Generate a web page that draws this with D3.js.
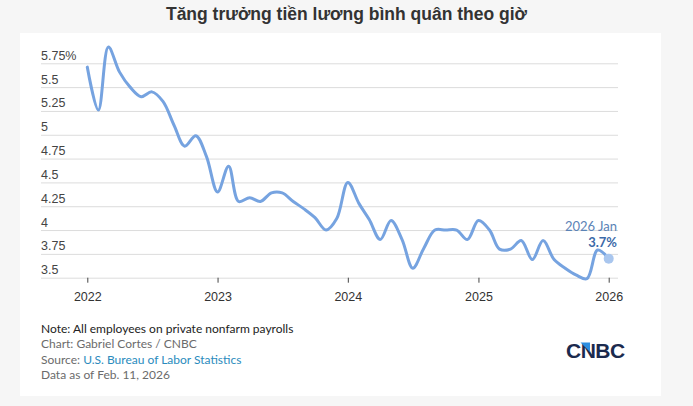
<!DOCTYPE html>
<html>
<head>
<meta charset="utf-8">
<script src="https://cdn.jsdelivr.net/npm/d3@7"></script>
<style>
  body { margin: 0; background: #f6f6f6; }
  svg { display: block; font-family: Lato, "Open Sans", sans-serif; }
</style>
</head>
<body>
<script>
// monthly YoY growth, Jan 2022 .. Jan 2026
var startMonth = "2022-01";
var wageGrowth = [
  5.71, 5.26, 5.92, 5.66, 5.50, 5.40, 5.45, 5.35, 5.10, 4.88, 4.99, 4.77,
  4.40, 4.67, 4.30, 4.34, 4.30, 4.39, 4.39, 4.30, 4.22, 4.13, 4.00, 4.12,
  4.50, 4.28, 4.11, 3.90, 4.10, 3.90, 3.60, 3.81, 4.00, 4.00, 4.00, 3.90,
  4.10, 4.00, 3.80, 3.80, 3.89, 3.69, 3.89, 3.69, 3.60, 3.53, 3.49, 3.79,
  3.70
];
var yTicks = [3.5, 3.75, 4, 4.25, 4.5, 4.75, 5, 5.25, 5.5, 5.75];
var yearTicks = ["2022", "2023", "2024", "2025", "2026"];
var lastLabel = "2026 Jan";

var title = "Tăng trưởng tiền lương bình quân theo giờ";
var notes = [
  {text: "Note: All employees on private nonfarm payrolls", color: "#222"},
  {text: "Chart: Gabriel Cortes / CNBC", color: "#6b6b6b"},
  {text: "Source: ", link: "U.S. Bureau of Labor Statistics", color: "#6b6b6b"},
  {text: "Data as of Feb. 11, 2026", color: "#6b6b6b"}
];

var svgW = 693, svgH = 406;
var parseMonth = d3.timeParse("%Y-%m");
var parseYear = d3.timeParse("%Y");

var data = wageGrowth.map(function(v, i) {
  return {date: d3.timeMonth.offset(parseMonth(startMonth), i), value: v};
});

var svg = d3.select("body").append("svg")
  .attr("width", svgW)
  .attr("height", svgH);

// white card
svg.append("rect")
  .attr("x", 20).attr("y", 33)
  .attr("width", 641).attr("height", 363)
  .attr("fill", "#fff");

svg.append("text")
  .attr("x", svgW / 2).attr("y", 20)
  .attr("text-anchor", "middle")
  .style("font-family", "'Liberation Sans', Arial, sans-serif")
  .style("font-weight", "bold")
  .style("font-size", "17.5px")
  .attr("fill", "#333")
  .text(title);

var xScale = d3.scaleTime()
  .domain([parseYear(yearTicks[0]), parseYear(yearTicks[yearTicks.length - 1])])
  .range([87.3, 608.7]);

var yScale = d3.scaleLinear()
  .domain([3.5, 5.75])
  .range([277.7, 63.3]);

// y gridlines + labels
var yAxis = d3.axisRight(yScale)
  .tickValues(yTicks)
  .tickSize(577)
  .tickFormat(function(d, i) {
    var s = d3.format("")(d);
    return i === yTicks.length - 1 ? s + "%" : s;
  });

var gy = svg.append("g")
  .attr("transform", "translate(41,0)")
  .call(yAxis);
gy.select(".domain").remove();
gy.selectAll(".tick line").attr("stroke", "#dcdcdc");
gy.selectAll(".tick text")
  .attr("x", 0).attr("dy", -4)
  .attr("text-anchor", "start")
  .style("font-size", "12.5px")
  .attr("fill", "#444");

// x axis
var xAxis = d3.axisBottom(xScale)
  .tickValues(yearTicks.map(parseYear))
  .tickSize(5)
  .tickPadding(9)
  .tickFormat(d3.timeFormat("%Y"));

var gx = svg.append("g")
  .attr("transform", "translate(0,277.7)")
  .call(xAxis);
gx.select(".domain").remove();
gx.selectAll(".tick line").attr("stroke", "#444");
gx.selectAll(".tick text")
  .style("font-size", "12.5px")
  .attr("fill", "#333");

// line
var line = d3.line()
  .x(function(d) { return xScale(d.date); })
  .y(function(d) { return yScale(d.value); })
  .curve(d3.curveCatmullRom.alpha(0.5));

svg.append("path")
  .datum(data)
  .attr("d", line)
  .attr("fill", "none")
  .attr("stroke", "#76a3e0")
  .attr("stroke-width", 3)
  .attr("stroke-linejoin", "round")
  .attr("stroke-linecap", "round");

var last = data[data.length - 1];
svg.append("circle")
  .attr("cx", xScale(last.date))
  .attr("cy", yScale(last.value))
  .attr("r", 5)
  .attr("fill", "#a9c6ee");

svg.append("text")
  .attr("x", 617).attr("y", 231)
  .attr("text-anchor", "end")
  .style("font-size", "13px")
  .attr("fill", "#5b83b6")
  .text(lastLabel);

svg.append("text")
  .attr("x", 617).attr("y", 246.5)
  .attr("text-anchor", "end")
  .style("font-size", "13px")
  .style("font-weight", "bold")
  .attr("fill", "#3c6aa8")
  .text(d3.format(".1f")(last.value) + "%");

// footer notes
notes.forEach(function(n, i) {
  var t = svg.append("text")
    .attr("x", 41).attr("y", 333 + i * 15.3)
    .style("font-size", "12px")
    .attr("fill", n.color)
    .text(n.text);
  if (n.link) {
    t.append("tspan").attr("fill", "#2a8bbd").text(n.link);
  }
});

// CNBC wordmark
var logo = svg.append("g").attr("transform", "translate(566,358)");
logo.append("text")
  .attr("x", 0).attr("y", 0)
  .style("font-family", "'Liberation Sans', Arial, sans-serif")
  .style("font-weight", "bold")
  .style("font-size", "21px")
  .style("letter-spacing", "-0.5px")
  .attr("fill", "#1b2a4e")
  .text("CNBC");
logo.append("polygon")
  .attr("points", "14.5,-15.5 24,-15.5 24,-6")
  .attr("fill", "#2d8ee0");
</script>
</body>
</html>
